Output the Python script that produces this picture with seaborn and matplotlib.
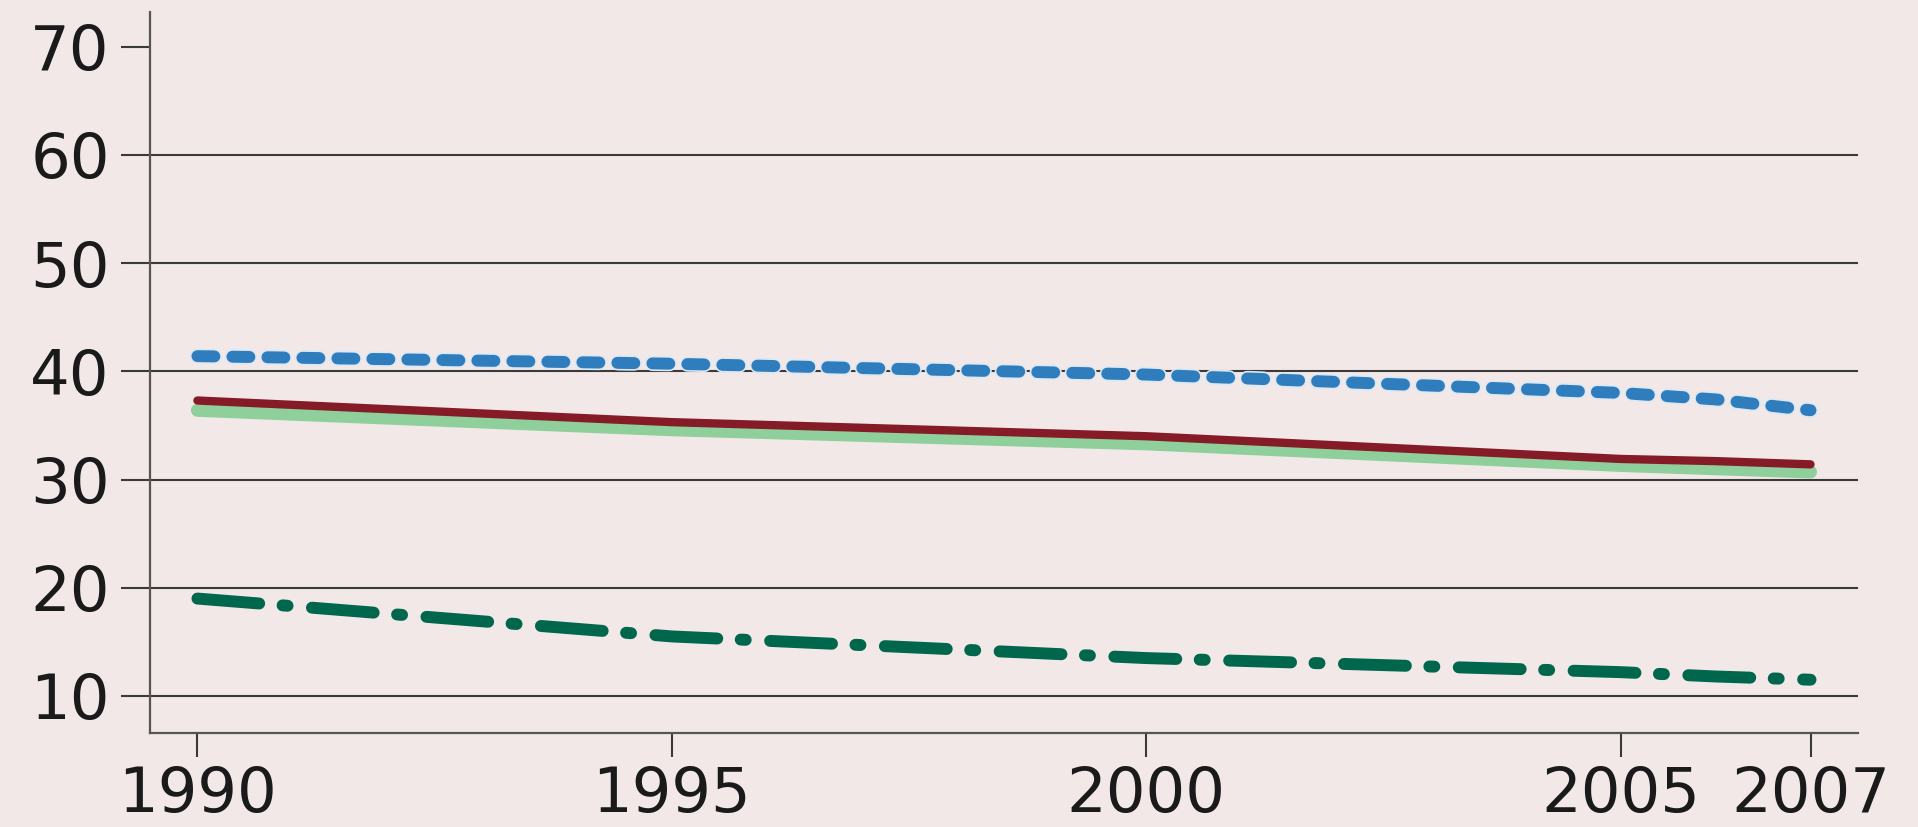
import matplotlib
matplotlib.use("Agg")
import matplotlib.pyplot as plt
import matplotlib.patheffects as pe
import seaborn as sns
import pandas as pd

# values
years = [1990, 1995, 2000, 2005, 2006, 2007]
blue_dotted = [41.4, 40.7, 39.7, 38.0, 37.4, 36.4]
dark_red = [37.3, 35.3, 34.0, 31.9, 31.7, 31.4]
light_green = [36.4, 34.6, 33.3, 31.3, 31.0, 30.7]
dark_green = [19.0, 15.5, 13.5, 12.2, 11.8, 11.5]

x_ticks = [1990, 1995, 2000, 2005, 2007]
y_ticks = [10, 20, 30, 40, 50, 60, 70]

bg = "#f2e8e8"

sns.set_style("ticks")
plt.rcParams["font.family"] = ["DejaVu Sans"]
plt.rcParams["lines.scale_dashes"] = False

fig = plt.figure(figsize=(19.18, 8.27), dpi=100)
fig.patch.set_facecolor(bg)
ax = fig.add_axes([0.0782, 0.1137, 0.8905, 0.8718])
ax.set_facecolor(bg)

df = pd.DataFrame({"year": years, "blue": blue_dotted, "red": dark_red,
                   "lgreen": light_green, "dgreen": dark_green})

sns.lineplot(data=df, x="year", y="lgreen", ax=ax, color="#8ecf9b", lw=9.4,
             solid_capstyle="round", zorder=3)
sns.lineplot(data=df, x="year", y="red", ax=ax, color="#861b28", lw=6,
             solid_capstyle="round", zorder=4)
sns.lineplot(data=df, x="year", y="blue", ax=ax, color="#2f7dbd", lw=8.6,
             linestyle=(0, (12.2, 13)), dash_capstyle="round", zorder=4,
             path_effects=[pe.Stroke(linewidth=11, foreground="#dde8f2"), pe.Normal()])
sns.lineplot(data=df, x="year", y="dgreen", ax=ax, color="#00674c", lw=8.6,
             linestyle=(0, (44.6, 16.9, 3.6, 17.6)), dash_capstyle="round", zorder=4)

ax.set_xlim(1989.5, 2007.5)
ax.set_ylim(6.58, 73.2)
ax.set_xticks(x_ticks)
ax.set_yticks(y_ticks)
ax.set_xlabel("")
ax.set_ylabel("")

# horizontal grid for 10..60 only
ax.grid(axis="y", color="#3a3a3a", lw=1.5, zorder=1)
ax.yaxis.get_gridlines()[-1].set_visible(False)

for side in ["top", "right"]:
    ax.spines[side].set_visible(False)
for side in ["left", "bottom"]:
    ax.spines[side].set_color("#555555")
    ax.spines[side].set_linewidth(1.6)

ax.tick_params(axis="y", length=21, width=1.5, color="#3a3a3a", pad=8,
               labelsize=45, labelcolor="#1a1a1a")
ax.tick_params(axis="x", length=17, width=1.5, color="#3a3a3a", pad=6,
               labelsize=45, labelcolor="#1a1a1a")

fig.savefig("out.png", dpi=100, facecolor=bg)
